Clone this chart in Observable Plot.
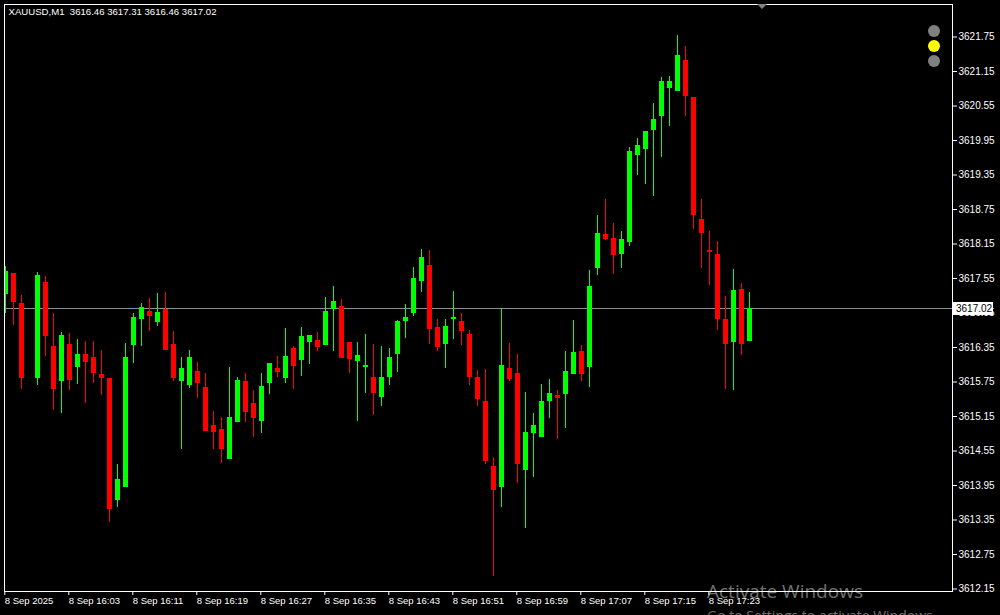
<!DOCTYPE html>
<html><head><meta charset="utf-8">
<script src="https://cdn.jsdelivr.net/npm/d3@7"></script>
<script src="https://cdn.jsdelivr.net/npm/@observablehq/plot@0.6"></script>
<style>
html,body{margin:0;padding:0;background:#000;overflow:hidden;}
#chart{position:relative;width:1000px;height:615px;}
</style></head><body><div id="chart"></div>
<script>
// ---- data (XAUUSD, M1, 8 Sep 2025 from 15:55) ----
const symbolTitle = "XAUUSD,M1\u00a0 3616.46 3617.31 3616.46 3617.02";
const minuteIdx = [0,1,2,4,5,6,7,8,9,10,11,12,13,14,15,16,17,18,19,20,21,22,23,24,25,26,27,28,29,30,31,32,33,34,35,36,37,38,39,40,41,42,43,44,45,46,47,48,49,50,51,52,53,54,55,56,57,58,59,60,61,62,63,64,65,66,67,68,69,70,71,72,73,74,75,76,77,78,79,80,81,82,83,84,85,86,87,88,89,90,91,92,93];
const opens = [3617.28,3617.64,3617.12,3615.81,3617.48,3616.37,3615.76,3616.40,3616.01,3616.23,
  3616.17,3615.88,3615.81,3613.69,3613.92,3616.38,3616.84,3616.98,3616.78,3617.01,
  3616.40,3615.76,3615.69,3615.93,3615.65,3614.99,3614.92,3614.40,3615.04,3615.76,
  3615.37,3615.07,3615.72,3615.98,3615.81,3616.33,3616.13,3616.44,3616.47,3616.38,
  3617.01,3617.06,3616.44,3616.11,3616.01,3615.83,3615.48,3615.83,3616.22,3616.81,
  3616.95,3617.49,3617.78,3616.70,3616.41,3616.83,3616.80,3616.58,3615.83,3615.41,
  3614.28,3613.92,3615.98,3615.90,3614.21,3614.86,3614.79,3615.41,3615.51,3615.54,
  3615.88,3616.28,3616.01,3617.73,3618.32,3618.25,3617.97,3618.18,3619.69,3619.80,
  3620.12,3620.36,3620.85,3620.80,3621.35,3620.70,3618.58,3618.04,3617.97,3616.84,
  3616.44,3617.36,3616.46];
const highs = [3617.76,3617.64,3617.26,3617.66,3617.59,3616.94,3616.61,3616.59,3616.49,3616.45,
  3616.45,3616.30,3615.81,3614.31,3616.42,3616.94,3617.12,3617.20,3617.29,3617.31,
  3616.63,3616.17,3616.30,3616.09,3615.90,3615.23,3615.13,3616.00,3615.83,3615.90,
  3615.60,3615.90,3616.07,3616.19,3616.68,3616.37,3616.70,3616.56,3616.61,3617.22,
  3617.41,3617.19,3616.44,3616.44,3616.58,3616.40,3616.37,3616.33,3616.82,3617.10,
  3617.74,3618.06,3618.04,3616.84,3616.84,3617.33,3616.94,3616.65,3615.95,3615.97,
  3614.43,3617.03,3616.42,3616.23,3615.57,3615.20,3615.70,3615.79,3615.60,3616.28,
  3616.82,3616.38,3617.69,3618.65,3618.93,3618.51,3618.37,3619.82,3619.99,3620.11,
  3620.60,3621.04,3621.07,3621.78,3621.58,3620.70,3618.93,3618.36,3618.20,3617.23,
  3617.70,3617.46,3617.31];
const lows = [3616.94,3616.73,3615.62,3615.69,3616.20,3615.25,3615.20,3615.61,3615.71,3615.38,
  3615.72,3615.52,3613.31,3613.57,3613.92,3616.07,3616.37,3616.63,3616.72,3616.30,
  3615.76,3614.57,3615.64,3615.46,3614.89,3614.57,3614.33,3614.40,3615.04,3615.04,
  3614.78,3614.85,3615.53,3615.83,3615.72,3615.62,3615.85,3616.06,3616.28,3616.38,
  3616.28,3616.16,3615.90,3615.07,3615.55,3615.17,3615.33,3615.69,3615.92,3616.51,
  3616.89,3617.30,3616.41,3616.28,3615.99,3616.49,3616.39,3615.69,3615.33,3614.32,
  3612.37,3613.57,3615.76,3613.98,3613.20,3614.09,3614.79,3615.12,3614.75,3614.94,
  3615.88,3615.76,3615.66,3617.61,3618.21,3617.62,3617.73,3618.11,3619.35,3619.18,
  3618.97,3619.65,3620.19,3620.80,3620.36,3618.41,3617.73,3617.43,3616.65,3615.62,
  3615.61,3616.21,3616.46];
const closes = [3617.67,3617.14,3615.81,3617.60,3616.55,3615.62,3616.56,3615.78,3616.23,3616.09,
  3615.90,3615.81,3613.53,3614.05,3616.17,3616.87,3617.05,3616.89,3616.96,3616.30,
  3615.81,3615.98,3616.17,3615.72,3614.89,3614.87,3614.57,3615.13,3615.77,3615.22,
  3615.11,3615.67,3616.07,3615.91,3616.19,3616.02,3616.54,3616.56,3616.35,3616.98,
  3617.15,3616.16,3616.15,3616.21,3616.04,3615.55,3615.83,3616.17,3616.80,3616.87,
  3617.55,3617.92,3616.67,3616.35,3616.72,3616.87,3616.62,3615.83,3615.45,3614.37,
  3613.86,3616.04,3615.80,3614.32,3614.87,3614.99,3615.41,3615.55,3615.47,3615.93,
  3616.26,3615.88,3617.41,3618.34,3618.23,3617.95,3618.23,3619.76,3619.87,3620.11,
  3620.32,3620.97,3620.97,3621.42,3620.71,3618.64,3618.34,3618.01,3616.84,3616.41,
  3617.34,3616.41,3617.02];
const bidPrice = 3617.02;
const priceTicks = [3621.75,3621.15,3620.55,3619.95,3619.35,3618.75,3618.15,3617.55,3616.95,3616.35,3615.75,3615.15,3614.55,3613.95,3613.35,3612.75,3612.15];
const timeTickIdx = [0,8,16,24,32,40,48,56,64,72,80,88];
const timeLabels = ["8 Sep 2025","8 Sep 16:03","8 Sep 16:11","8 Sep 16:19","8 Sep 16:27","8 Sep 16:35","8 Sep 16:43","8 Sep 16:51","8 Sep 16:59","8 Sep 17:07","8 Sep 17:15","8 Sep 17:23"];

// ---- chart ----
const candles = minuteIdx.map((m, k) => ({m, o: opens[k], h: highs[k], l: lows[k], c: closes[k]}));
const tone = d => d.c >= d.o ? "#00ff00" : "#ff0000";
const half = 0.31;

const chart = Plot.plot({
  width: 1000, height: 615,
  marginLeft: 4, marginRight: 48, marginTop: 4, marginBottom: 24,
  style: {background: "#000", color: "#fff", fontFamily: "'Liberation Sans', Arial, sans-serif", fontSize: "10px"},
  x: {type: "linear", domain: [0, 93], range: [5.3, 749.3]},
  y: {domain: [3612.15, 3621.75], range: [588.5, 36.5]},
  marks: [
    Plot.ruleY([bidPrice], {stroke: "#8a8f99", strokeWidth: 1, shapeRendering: "crispEdges"}),
    Plot.ruleX(candles, {x: "m", y1: "l", y2: "h", stroke: tone, strokeWidth: 1, clip: true, shapeRendering: "crispEdges"}),
    Plot.rect(candles, {x1: d => d.m - half, x2: d => d.m + half, y1: "o", y2: "c", fill: tone, clip: true, shapeRendering: "crispEdges"}),
    Plot.frame({stroke: "#fff", shapeRendering: "crispEdges"}),
    Plot.axisY(priceTicks, {anchor: "right", tickSize: 4, tickPadding: 2, tickFormat: d => d.toFixed(2), label: null, stroke: "#fff", fill: "#fff", fontSize: 10}),
    Plot.axisX(timeTickIdx, {anchor: "bottom", tickSize: 4, tickPadding: 2, tickFormat: d => timeLabels[timeTickIdx.indexOf(d)], textAnchor: "start", dx: -1, label: null, stroke: "#fff", fill: "#fff", fontSize: 9.5}),
    Plot.text([symbolTitle], {text: d => d, frameAnchor: "top-left", dx: 4, dy: 4, textAnchor: "start", lineAnchor: "top", fill: "#fff", fontSize: 9.6})
  ]
});
document.getElementById("chart").appendChild(chart);

// ---- terminal decorations ----
const svg = d3.select(chart);
const yb = chart.scale("y").apply(bidPrice);
svg.append("rect").attr("x", 953).attr("y", yb - 6.5).attr("width", 40).attr("height", 13).attr("fill", "#fff");
svg.append("text").attr("x", 956).attr("y", yb).attr("dy", "0.35em").attr("text-anchor", "start").attr("fill", "#000").attr("font-size", 10).text(bidPrice.toFixed(2));
[["#808080", 31], ["#ffff00", 46], ["#808080", 61]].forEach(([c, cy]) =>
  svg.append("circle").attr("cx", 934).attr("cy", cy).attr("r", 6).attr("fill", c));
svg.append("polygon").attr("points", "757,4 767,4 762,9").attr("fill", "#808080");
svg.append("text").attr("x", 707).attr("y", 598).attr("text-anchor", "start").attr("font-family", "'Open Sans', sans-serif").attr("font-size", 19).attr("fill", "rgba(255,255,255,0.45)").text("Activate Windows");
svg.append("text").attr("x", 707).attr("y", 621).attr("text-anchor", "start").attr("font-family", "'Open Sans', sans-serif").attr("font-size", 14).attr("fill", "rgba(255,255,255,0.45)").text("Go to Settings to activate Windows.");
</script></body></html>
